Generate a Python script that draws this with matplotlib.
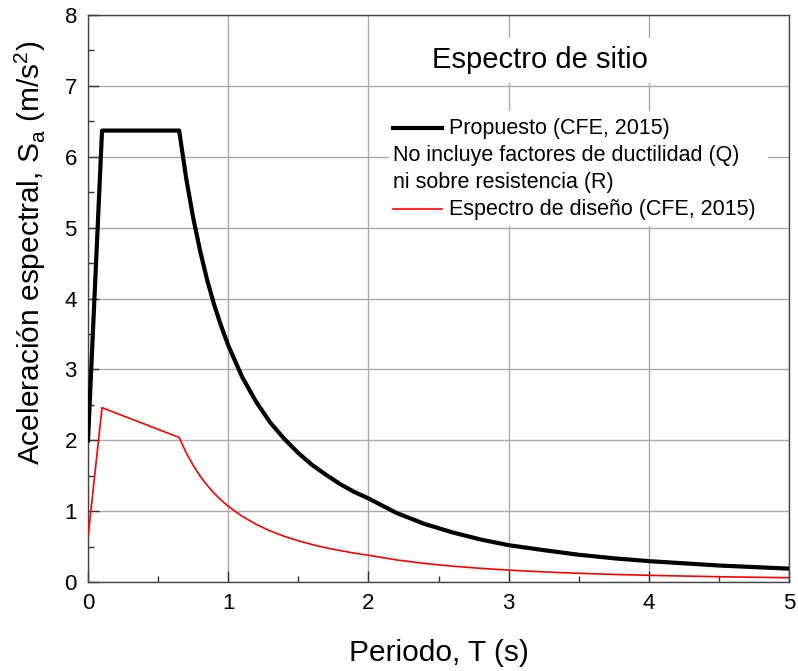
import matplotlib.pyplot as plt
from matplotlib.lines import Line2D

plt.rcParams['font.family'] = ['Liberation Sans', 'DejaVu Sans']

# Propuesto (CFE, 2015)
T_prop = [0, 0.1, 0.65, 0.7, 0.75, 0.8, 0.85, 0.9, 0.95, 1.0, 1.1, 1.2, 1.3, 1.4,
          1.5, 1.6, 1.7, 1.8, 1.9, 2.0, 2.2, 2.4, 2.6, 2.8, 3.0, 3.25, 3.5, 3.75,
          4.0, 4.5, 5.0]
Sa_prop = [2.0, 6.37, 6.37, 5.70, 5.14, 4.67, 4.26, 3.91, 3.61, 3.34, 2.89, 2.54,
           2.25, 2.02, 1.82, 1.65, 1.51, 1.38, 1.27, 1.18, 0.975, 0.82, 0.70, 0.60,
           0.52, 0.45, 0.385, 0.335, 0.295, 0.233, 0.189]

# Espectro de diseño (CFE, 2015)
T_dis = [0, 0.1, 0.65, 0.7, 0.75, 0.8, 0.85, 0.9, 0.95, 1.0, 1.1, 1.2, 1.3, 1.4,
         1.5, 1.6, 1.7, 1.8, 1.9, 2.0, 2.2, 2.4, 2.6, 2.8, 3.0, 3.25, 3.5, 3.75,
         4.0, 4.5, 5.0]
Sa_dis = [0.63, 2.46, 2.04, 1.825, 1.646, 1.494, 1.364, 1.252, 1.155, 1.069, 0.927,
          0.813, 0.721, 0.645, 0.582, 0.528, 0.482, 0.443, 0.408, 0.378, 0.312,
          0.2625, 0.224, 0.193, 0.168, 0.143, 0.123, 0.1075, 0.0945, 0.0747, 0.0605]

fig = plt.figure(figsize=(7.98, 6.71), dpi=100)
ax = fig.add_axes([0.1103, 0.1326, 0.8784, 0.845])

ax.plot(T_prop, Sa_prop, color='black', lw=3.0, zorder=3)
ax.plot(T_dis, Sa_dis, color='red', lw=1.2, zorder=3)

ax.set_xlim(0, 5)
ax.set_ylim(0, 8)
ax.set_xticks(range(6))
ax.set_yticks(range(9))
ax.set_xticks([0.5, 1.5, 2.5, 3.5, 4.5], minor=True)
ax.set_yticks([0.5 + i for i in range(8)], minor=True)
ax.tick_params(which='major', direction='in', length=8, width=1, color='#333333',
               labelsize=16, pad=8)
ax.tick_params(which='minor', direction='in', length=4, width=1, color='#333333')
ax.grid(True, which='major', color='#aaaaaa', lw=1)
for s in ax.spines.values():
    s.set_color('#444444')
    s.set_linewidth(1)

ax.set_xlabel('Periodo, T (s)', fontsize=21.5, labelpad=18)
ax.set_ylabel('Aceleración espectral, S$_\\mathregular{a}$ (m/s$^\\mathregular{2}$)',
              fontsize=21.5, labelpad=12)
ax.yaxis.label.set_y(0.58)

ax.text(3.22, 7.36, 'Espectro de sitio', fontsize=21, ha='center', va='center',
        bbox=dict(facecolor='white', edgecolor='none', pad=6), zorder=4)

# legend block with white background, drawn in axes coordinates
tr = ax.transAxes
x0 = (393 - 88) / 701
x1 = (442 - 88) / 701
xt = (449 - 88) / 701
ys = [(582 - y) / 567 for y in (128, 155, 182, 209)]
bg = plt.Rectangle((x0 - 0.005, ys[3] - 0.03), (772 - 393) / 701, ys[0] - ys[3] + 0.06,
                   transform=tr, facecolor='white', edgecolor='none', zorder=4)
ax.add_patch(bg)
ax.add_line(Line2D([x0, x1], [ys[0], ys[0]], transform=tr, color='black', lw=3.0, zorder=5))
ax.add_line(Line2D([x0, x1], [ys[3], ys[3]], transform=tr, color='red', lw=1.2, zorder=5))
fs = 15.5
ax.text(xt, ys[0], 'Propuesto (CFE, 2015)', transform=tr, fontsize=fs, va='center', zorder=5)
ax.text(x0, ys[1], 'No incluye factores de ductilidad (Q)', transform=tr, fontsize=fs,
        va='center', zorder=5)
ax.text(x0, ys[2], 'ni sobre resistencia (R)', transform=tr, fontsize=fs, va='center', zorder=5)
ax.text(xt, ys[3], 'Espectro de diseño (CFE, 2015)', transform=tr, fontsize=fs,
        va='center', zorder=5)

fig.savefig('out.png', dpi=100)
